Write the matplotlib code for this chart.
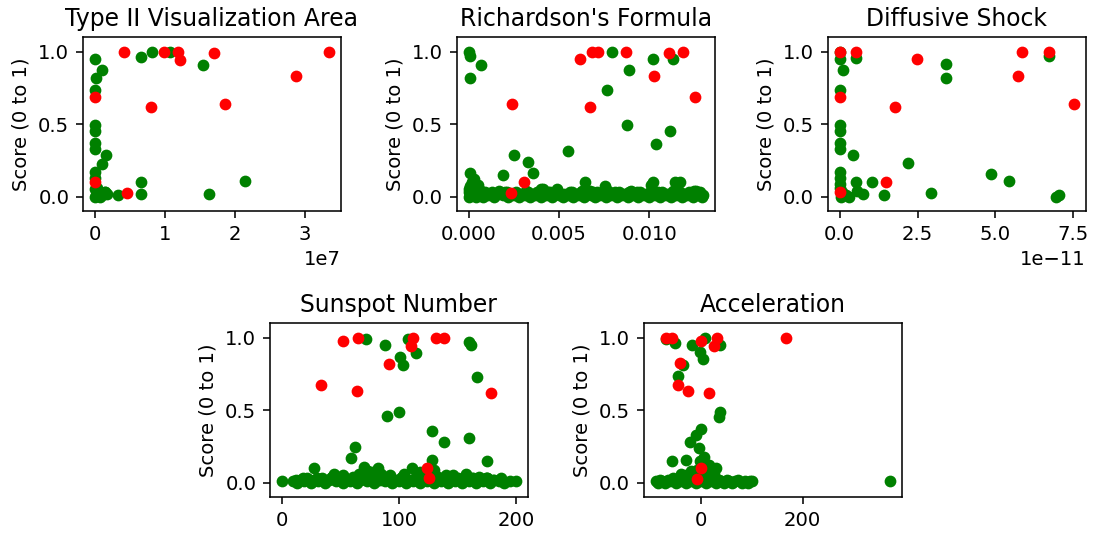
import matplotlib
matplotlib.use("Agg")
from matplotlib import pyplot as plt

# Type II Visualization Area (x in units of 1e7)
t2_green_x = [0.0, 0.02, 0.10, 0.0, 0.0, 0.0, 0.0, 0.0, 0.10, 0.16, 0.0, 0.0, 0.0, 0.02, 0.05,
              0.08, 0.15, 0.18, 0.10, 0.33, 0.15, 0.66, 0.66, 0.66, 0.82, 1.07, 1.55, 1.64, 2.15,
              0.0, 0.03, 0.06]
t2_green_y = [0.953, 0.82, 0.872, 0.739, 0.494, 0.455, 0.37, 0.33, 0.226, 0.284, 0.17, 0.13, 0.05,
              0.01, 0.03, 0.0, 0.03, 0.02, 0.01, 0.01, 0.03, 0.098, 0.021, 0.967, 1.0, 1.0, 0.909,
              0.021, 0.105, 0.0, 0.06, 0.02]
t2_red_x = [0.0, 0.0, 0.42, 0.46, 0.80, 0.99, 1.19, 1.215, 1.71, 1.86, 2.87, 3.35]
t2_red_y = [0.685, 0.103, 1.0, 0.028, 0.622, 1.0, 1.0, 0.944, 0.99, 0.641, 0.832, 1.0]

# Richardson's Formula
rf_green_x = [0.0, 0.00005, 0.0001, 0.00066, 0.00249, 0.00193, 0.00328, 0.00359, 0.00549, 0.00646,
              0.00755, 0.00768, 0.00794, 0.00886, 0.00877, 0.01018, 0.01035, 0.01010, 0.01020,
              0.01114, 0.01130, 0.01140, 0.01170, 0.01260, 0.01298,
              0.0, 0.00002, 0.00004, 0.0001, 0.0001, 0.0002, 0.0003, 0.0004, 0.0005, 0.0006,
              0.0007, 0.0008, 0.0010, 0.0011, 0.0013, 0.0014, 0.0016, 0.0017, 0.0019, 0.0020,
              0.0022, 0.0023, 0.0025, 0.0026, 0.0028, 0.0029, 0.0031, 0.0032, 0.0034, 0.0035,
              0.0037, 0.0038, 0.0040, 0.0041, 0.0043, 0.0044, 0.0046, 0.0047, 0.0049, 0.0050,
              0.0052, 0.0053, 0.0055, 0.0056, 0.0058, 0.0059, 0.0061, 0.0062, 0.0064, 0.0065,
              0.0067, 0.0068, 0.0070, 0.0071, 0.0073, 0.0074, 0.0076, 0.0077, 0.0079, 0.0080,
              0.0082, 0.0083, 0.0085, 0.0086, 0.0088, 0.0089, 0.0091, 0.0092, 0.0094, 0.0095,
              0.0097, 0.0098, 0.0100, 0.0101, 0.0103, 0.0104, 0.0106, 0.0107, 0.0109, 0.0110,
              0.0112, 0.0113, 0.0115, 0.0116, 0.0118, 0.0119, 0.0121, 0.0122, 0.0124, 0.0125,
              0.0127, 0.0128, 0.0129, 0.0001, 0.0003, 0.0005, 0.0002, 0.0004, 0.0040, 0.0049,
              0.0063, 0.0090,
              0.0003, 0.0009, 0.0015, 0.0021, 0.0027, 0.0033, 0.0039, 0.0045, 0.0051, 0.0057,
              0.0063, 0.0069, 0.0075, 0.0081, 0.0087, 0.0093, 0.0099, 0.0105, 0.0111, 0.0117,
              0.0123, 0.0128]
rf_green_y = [1.0, 0.97, 0.82, 0.909, 0.289, 0.152, 0.238, 0.166, 0.315, 0.10, 0.07, 0.734, 1.0,
              0.872, 0.494, 0.949, 0.361, 0.08, 0.10, 0.455, 0.95, 0.10, 0.10, 0.04, 0.01,
              0.0, 0.03, 0.05, 0.01, 0.07, 0.02, 0.04, 0.0, 0.03, 0.01,
              0.04, 0.0, 0.02, 0.01, 0.03, 0.0, 0.02, 0.04, 0.01, 0.03,
              0.0, 0.02, 0.01, 0.03, 0.0, 0.02, 0.01, 0.04, 0.0, 0.02,
              0.01, 0.03, 0.0, 0.05, 0.01, 0.03, 0.0, 0.02, 0.04, 0.01,
              0.0, 0.02, 0.01, 0.03, 0.0, 0.02, 0.01, 0.03, 0.0, 0.02,
              0.04, 0.01, 0.0, 0.03, 0.01, 0.02, 0.0, 0.04, 0.01, 0.02,
              0.0, 0.03, 0.01, 0.02, 0.0, 0.03, 0.01, 0.02, 0.0, 0.03,
              0.01, 0.02, 0.0, 0.04, 0.01, 0.02, 0.0, 0.03, 0.01, 0.02,
              0.0, 0.04, 0.01, 0.03, 0.0, 0.02, 0.01, 0.03, 0.0, 0.04,
              0.01, 0.02, 0.0, 0.166, 0.12, 0.08, 0.10, 0.06, 0.05, 0.05,
              0.04, 0.04,
              0.02, 0.03, 0.02, 0.03, 0.02, 0.03, 0.02, 0.03, 0.02, 0.03,
              0.02, 0.03, 0.02, 0.03, 0.02, 0.03, 0.02, 0.03, 0.02, 0.03,
              0.02, 0.03]
rf_red_x = [0.00617, 0.00672, 0.00681, 0.00718, 0.00869, 0.01028, 0.0111, 0.01188, 0.01252,
            0.00239, 0.00304, 0.00236]
rf_red_y = [0.949, 0.622, 1.0, 1.0, 1.0, 0.832, 0.99, 1.0, 0.685, 0.641, 0.098, 0.026]

# Diffusive Shock (x in units of 1e-11)
ds_green_x = [0.0, 0.0, 0.12, 0.0, 0.0, 0.0, 0.0, 0.0, 0.43, 0.0, 0.0, 0.0, 0.05, 0.1, 0.2,
              0.51, 0.51, 0.55, 0.75, 0.3, 1.05, 1.42, 2.19, 2.93, 3.42, 3.42, 4.86, 5.45, 6.73,
              6.95, 7.05, 0.0, 0.08]
ds_green_y = [1.0, 0.95, 0.872, 0.739, 0.494, 0.455, 0.37, 0.33, 0.289, 0.17, 0.13, 0.06, 0.0,
              0.02, 0.01, 0.96, 0.098, 0.04, 0.02, 0.0, 0.098, 0.01, 0.233, 0.028, 0.914, 0.816,
              0.159, 0.105, 0.972, 0.0, 0.01, 0.09, 0.03]
ds_red_x = [0.0, 0.51, 0.0, 0.0, 1.50, 1.77, 2.47, 5.72, 5.86, 6.71, 7.53]
ds_red_y = [1.0, 1.0, 0.685, 0.03, 0.098, 0.622, 0.949, 0.832, 1.0, 1.0, 0.641]

# Sunspot Number
ss_green_x = [0, 27.8, 58.7, 62.4, 71.6, 88.2, 89.6, 100.3, 100.8, 103.7, 108, 114.3, 111, 128.4,
              128.4, 138.8, 160, 161.5, 160, 166.3, 174.7, 175, 70, 82, 200,
              10, 13, 16, 19, 22, 25, 28, 31, 34, 37, 40, 43, 46, 49, 52, 55, 58, 61, 64, 67,
              70, 73, 76, 79, 82, 85, 88, 91, 94, 97, 100, 103, 106, 109, 112, 115, 118, 121,
              124, 127, 130, 133, 136, 139, 142, 145, 148, 151, 154, 157, 160, 163, 166, 169,
              172, 175, 178, 181, 185, 190, 195,
              45, 74, 78, 85, 118, 130, 140, 157, 168, 52, 66, 92, 104, 146,
              12, 18, 24, 30, 36, 42, 48, 54, 60, 66, 72, 78, 84, 90, 96, 102, 108, 114,
              120, 126, 132, 138, 144, 150, 156, 162, 168, 174, 180, 187]
ss_green_y = [0.01, 0.097, 0.17, 0.247, 0.988, 0.949, 0.459, 0.488, 0.869, 0.811, 0.99, 0.896,
              0.10, 0.357, 0.154, 0.281, 0.968, 0.949, 0.311, 0.73, 0.147, 0.03, 0.11, 0.10, 0.01,
              0.01, 0.0, 0.02, 0.01, 0.03, 0.0, 0.02, 0.01, 0.03, 0.0, 0.02, 0.04, 0.01, 0.03,
              0.0, 0.02, 0.01, 0.04, 0.0, 0.02, 0.05, 0.01, 0.03, 0.0, 0.02, 0.04, 0.01, 0.03,
              0.0, 0.02, 0.01, 0.04, 0.0, 0.02, 0.01, 0.03, 0.0, 0.02, 0.01, 0.03, 0.0, 0.04,
              0.01, 0.02, 0.0, 0.03, 0.01, 0.02, 0.0, 0.04, 0.01, 0.03, 0.0, 0.02, 0.01, 0.03,
              0.0, 0.02, 0.01, 0.0, 0.01,
              0.06, 0.08, 0.07, 0.06, 0.07, 0.09, 0.05, 0.06, 0.04, 0.05, 0.06, 0.05, 0.06, 0.05,
              0.02, 0.03, 0.02, 0.03, 0.02, 0.03, 0.02, 0.03, 0.02, 0.03, 0.02, 0.03, 0.02, 0.03,
              0.02, 0.03, 0.02, 0.03, 0.02, 0.03, 0.02, 0.03, 0.02, 0.03, 0.02, 0.03, 0.02, 0.03,
              0.02, 0.03]
ss_red_x = [52.5, 33.7, 65.2, 63.8, 91.9, 110.7, 112.4, 131.2, 138.2, 124.2, 125.6, 178.4]
ss_red_y = [0.977, 0.673, 1.0, 0.634, 0.816, 0.942, 1.0, 1.0, 1.0, 0.097, 0.028, 0.615]

# Acceleration
ac_green_x = [-70, -52, -35, -45, -57, -29, -22, -10, -1, -5, 6, -19, -2, 3, 7, 37, 35, 38, 30, 372,
              -90, -86, -82, -77, -72, -66, -61, -55, -50, -45, -40, -35, -30, -25, -20, -15,
              -10, -5, 0, 5, 10, 15, 20, 25, 30, 35, 40, 45, 50, 55, 60, 66, 72, 80, 86, 92, 97,
              101, -15, -8, 10, 20, -30, 15, -40, 25, 5, -3, -20, 12]
ac_green_y = [0.988, 0.965, 0.811, 0.735, 0.147, 0.154, 0.281, 0.327, 0.373, 0.242, 0.177, 0.949,
              0.903, 0.85, 1.0, 0.949, 0.454, 0.488, 0.097, 0.01,
              0.01, 0.0, 0.02, 0.01, 0.0, 0.02, 0.01, 0.03, 0.0, 0.02, 0.01, 0.04, 0.0, 0.02,
              0.01, 0.03, 0.0, 0.02, 0.01, 0.04, 0.0, 0.02, 0.01, 0.03, 0.0, 0.02, 0.01, 0.0,
              0.02, 0.01, 0.0, 0.01, 0.02, 0.0, 0.01, 0.0, 0.01, 0.01,
              0.06, 0.09, 0.07, 0.05, 0.05, 0.12, 0.06, 0.06, 0.08, 0.15, 0.08, 0.05]
ac_red_x = [-69, -57, -42, -45, -25, 0, 31, 26, 15, 168, 0, -9]
ac_red_y = [1.0, 1.0, 0.823, 0.673, 0.634, 0.979, 1.0, 0.942, 0.615, 1.0, 0.097, 0.023]

fig = plt.figure(figsize=(1093 / 141, 533 / 141), dpi=141)

panels = [
    ("Type II Visualization Area", [x * 1e7 for x in t2_green_x], t2_green_y,
     [x * 1e7 for x in t2_red_x], t2_red_y, [0.0759, 0.604, 0.236, 0.326]),
    ("Richardson's Formula", rf_green_x, rf_green_y, rf_red_x, rf_red_y,
     [0.418, 0.604, 0.236, 0.326]),
    ("Diffusive Shock", [x * 1e-11 for x in ds_green_x], ds_green_y,
     [x * 1e-11 for x in ds_red_x], ds_red_y, [0.7575, 0.604, 0.236, 0.326]),
    ("Sunspot Number", ss_green_x, ss_green_y, ss_red_x, ss_red_y,
     [0.247, 0.0675, 0.236, 0.326]),
    ("Acceleration", ac_green_x, ac_green_y, ac_red_x, ac_red_y,
     [0.589, 0.0675, 0.236, 0.326]),
]

for title, gx, gy, rx, ry, pos in panels:
    ax = fig.add_axes(pos)
    ax.scatter(gx, gy, color='green', s=25)
    ax.scatter(rx, ry, color='red', s=25)
    ax.set_ylim(-0.1, 1.1)
    ax.set_yticks([0.0, 0.5, 1.0])
    ax.set_title(title)
    ax.set_ylabel('Score (0 to 1)')

plt.savefig('out.png', dpi=141)
